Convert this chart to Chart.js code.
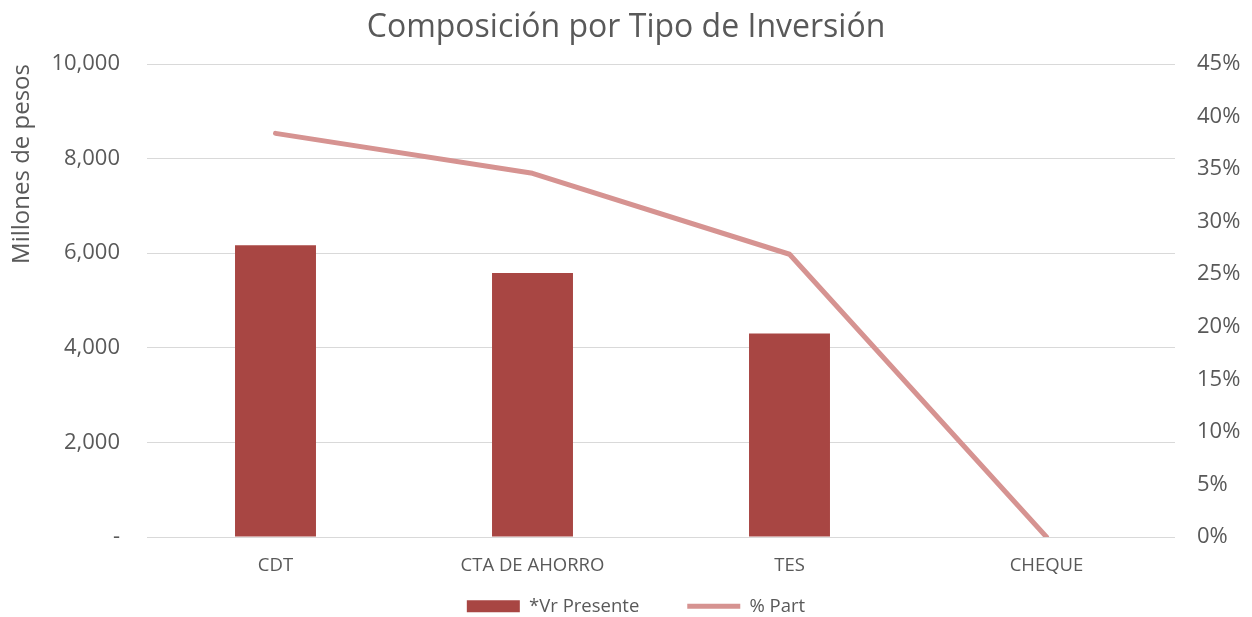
<!DOCTYPE html>
<html>
<head>
<meta charset="utf-8">
<script src="https://cdn.jsdelivr.net/npm/chart.js@4/dist/chart.umd.min.js"></script>
<style>
html,body{margin:0;padding:0;background:#fff;}
#wrap{width:1252px;height:617px;position:relative;}
</style>
</head>
<body>
<div id="wrap"><canvas id="c" width="1252" height="617"></canvas></div>
<script>
const categories = ['CDT', 'CTA DE AHORRO', 'TES', 'CHEQUE'];
const vrPresente = [6170, 5580, 4300, 0];
const pctPart = [38.4, 34.6, 26.9, 0];
const leftTicks = { min: 0, max: 10000, step: 2000 };
const rightTicks = { min: 0, max: 45, step: 5 };

const TXT = '#595959';
const FONT = '"Open Sans", sans-serif';
const LEGEND_PAD = 48;

const legendShift = {
  id: 'legendShift',
  beforeDraw(chart) {
    const lg = chart.legend;
    if (lg && !lg._shifted) {
      lg.top = 606 - 9 - LEGEND_PAD;
      lg.left += 10;
      lg.right += 10;
      lg._shifted = true;
    }
  }
};

new Chart(document.getElementById('c'), {
  data: {
    labels: categories,
    datasets: [
      {
        type: 'bar',
        label: '*Vr Presente',
        data: vrPresente,
        backgroundColor: '#A84643',
        borderWidth: 0,
        yAxisID: 'y',
        categoryPercentage: 1,
        barPercentage: 0.315,
        order: 2,
        pointStyle: 'rect'
      },
      {
        type: 'line',
        label: '% Part',
        data: pctPart,
        borderColor: '#D69391',
        backgroundColor: '#D69391',
        borderWidth: 5,
        pointRadius: 0,
        tension: 0,
        borderCapStyle: 'round',
        borderJoinStyle: 'round',
        yAxisID: 'y1',
        order: 1,
        pointStyle: 'line'
      }
    ]
  },
  plugins: [legendShift],
  options: {
    responsive: false,
    animation: false,
    layout: { padding: 0 },
    plugins: {
      title: {
        display: true,
        text: 'Composición por Tipo de Inversión',
        color: TXT,
        font: { family: FONT, size: 32, weight: 'normal' },
        padding: { top: 9, bottom: 16.6 }
      },
      legend: {
        position: 'bottom',
        maxHeight: 40,
        labels: {
          color: TXT,
          font: { family: FONT, size: 18.5 },
          usePointStyle: true,
          pointStyleWidth: 53,
          boxHeight: 12,
          padding: LEGEND_PAD,
          sort: (a, b) => a.datasetIndex - b.datasetIndex
        }
      },
      tooltip: { enabled: false }
    },
    scales: {
      x: {
        grid: { display: false },
        border: { display: false },
        ticks: { color: TXT, font: { family: FONT, size: 18.5 }, padding: 10, maxRotation: 0 },
        afterFit: (s) => { s.height = 40; }
      },
      y: {
        position: 'left',
        min: leftTicks.min, max: leftTicks.max,
        grid: { color: '#D9D9D9', lineWidth: 1, drawTicks: false },
        border: { display: false },
        ticks: {
          stepSize: leftTicks.step,
          color: TXT,
          font: { family: FONT, size: 22 },
          padding: 27,
          callback: (v) => v === 0 ? '-' : v.toLocaleString('en-US')
        },
        title: {
          display: true,
          text: 'Millones de pesos',
          align: 'end',
          color: TXT,
          font: { family: FONT, size: 24 },
          padding: { top: 8, bottom: 0 }
        },
        afterFit: (s) => { s.width = 147; }
      },
      y1: {
        position: 'right',
        min: rightTicks.min, max: rightTicks.max,
        grid: { display: false, drawTicks: false },
        border: { display: false },
        ticks: {
          stepSize: rightTicks.step,
          color: TXT,
          font: { family: FONT, size: 22 },
          padding: 22,
          callback: (v) => v + '%'
        },
        afterFit: (s) => { s.width = 77; }
      }
    }
  }
});
</script>
</body>
</html>
